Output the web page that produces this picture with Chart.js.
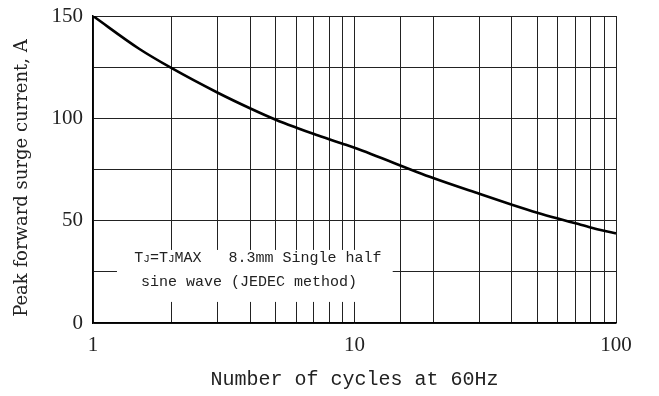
<!DOCTYPE html>
<html>
<head>
<meta charset="utf-8">
<script src="https://cdn.jsdelivr.net/npm/chart.js@4/dist/chart.umd.min.js"></script>
<style>
  body { margin: 0; background: #fff; }
  #wrap { width: 659px; height: 396px; }
</style>
</head>
<body>
<div id="wrap"><canvas id="surgeChart"></canvas></div>
<script>
// Surge current vs number of cycles
const cycles = [1, 1.5, 2, 3, 4, 5, 6, 7, 8, 9, 10, 20, 30, 40, 50, 60, 70, 80, 90, 100];
const surgeCurrent = [150, 134, 124.5, 112.5, 104.8, 99.3, 95.4, 92.3, 89.8, 87.6, 85.6, 70.8, 63.1, 57.8, 53.9, 51.0, 48.7, 46.7, 45.1, 43.8];
const yTickLabels = [0, 50, 100, 150];
const xTickLabels = [1, 10, 100];

const noteLine2 = 'sine wave (JEDEC method)';

const monoFont = '"Liberation Mono", "DejaVu Sans Mono", monospace';
const serifFont = '"Liberation Serif", "DejaVu Serif", serif';

// White box with the test condition, drawn over the grid
const notePlugin = {
    id: 'noteBox',
    beforeDatasetsDraw(chart) {
        const ctx = chart.ctx;
        const x = chart.scales.x, y = chart.scales.y;
        const left = x.getPixelForValue(1.235), right = x.getPixelForValue(14);
        const top = y.getPixelForValue(35.7), bottom = y.getPixelForValue(10.3);
        ctx.save();
        ctx.fillStyle = '#fff';
        ctx.fillRect(left, top, right - left, bottom - top);

        ctx.fillStyle = '#222';
        ctx.textBaseline = 'middle';
        const cx = x.getPixelForValue(4.16);

        // first line with small J subscripts
        const big = '15px ' + monoFont, small = '11px ' + monoFont;
        const parts = [['T', big], ['J', small], ['=T', big], ['J', small], ['MAX   8.3mm Single half', big]];
        let total = 0;
        parts.forEach(p => { ctx.font = p[1]; total += ctx.measureText(p[0]).width; });
        let px = cx + 3 - total / 2;
        const y1 = y.getPixelForValue(31.8);
        ctx.textAlign = 'left';
        parts.forEach(p => {
            ctx.font = p[1];
            ctx.fillText(p[0], px, p[1] === small ? y1 + 1 : y1);
            px += ctx.measureText(p[0]).width;
        });

        ctx.font = big;
        ctx.textAlign = 'center';
        ctx.fillText(noteLine2, cx - 6, y.getPixelForValue(20));
        ctx.restore();
    }
};

const ctx = document.getElementById('surgeChart').getContext('2d');
const chart = new Chart(ctx, {
    type: 'scatter',
    data: {
        datasets: [{
            data: cycles.map((c, i) => ({ x: c, y: surgeCurrent[i] })),
            showLine: true,
            borderColor: '#000',
            borderWidth: 2.6,
            pointRadius: 0,
            cubicInterpolationMode: 'monotone',
            fill: false
        }]
    },
    options: {
        responsive: true,
        maintainAspectRatio: false,
        animation: false,
        layout: { padding: { left: 0, right: 43, top: 16, bottom: 0 } },
        plugins: {
            legend: { display: false },
            tooltip: { enabled: false }
        },
        scales: {
            x: {
                type: 'logarithmic',
                min: 1,
                max: 100,
                afterFit: s => { s.height = 73; s.paddingLeft = 0; s.paddingRight = 0; },
                grid: { color: '#222', lineWidth: 1, drawTicks: false },
                border: { color: '#000', width: 1.5 },
                ticks: {
                    autoSkip: false,
                    maxRotation: 0,
                    padding: 10,
                    color: '#222',
                    font: { family: serifFont, size: 21 },
                    callback: v => xTickLabels.includes(v) ? String(v) : ''
                },
                title: {
                    display: true,
                    text: 'Number of cycles at 60Hz',
                    color: '#222',
                    font: { family: monoFont, size: 20 },
                    padding: { top: 0, bottom: 4 }
                }
            },
            y: {
                min: 0,
                max: 150,
                afterFit: s => { s.width = 93; s.paddingTop = 0; s.paddingBottom = 0; },
                grid: { color: '#222', lineWidth: 1, drawTicks: false },
                border: { color: '#000', width: 1.5 },
                ticks: {
                    stepSize: 25,
                    padding: 10,
                    color: '#222',
                    font: { family: serifFont, size: 21 },
                    callback: v => yTickLabels.includes(v) ? String(v) : ''
                },
                title: {
                    display: true,
                    text: 'Peak forward surge current, A   ',
                    color: '#222',
                    font: { family: '"DejaVu Serif", serif', size: 18 },
                    padding: { top: 12, bottom: 0 }
                }
            }
        }
    },
    plugins: [notePlugin]
});
</script>
</body>
</html>
